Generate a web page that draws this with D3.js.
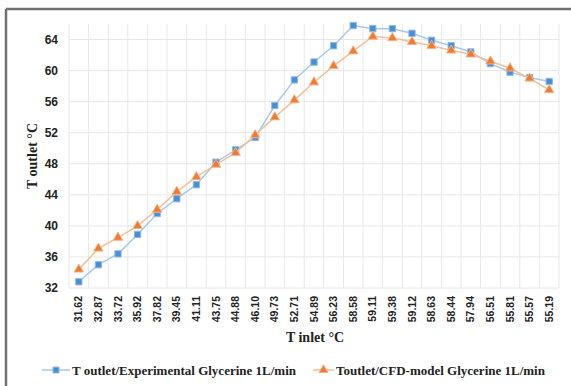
<!DOCTYPE html>
<html>
<head>
<meta charset="utf-8">
<script src="https://cdn.jsdelivr.net/npm/d3@7"></script>
<style>
  body { margin: 0; background: #fff; }
  svg { display: block; font-family: "Liberation Serif", "Times New Roman", serif; font-weight: bold; }
</style>
</head>
<body>
<svg id="chart" width="571" height="386"></svg>
<script>
// inlet temperatures (categories on x)
var tInlet = ['31.62', '32.87', '33.72', '35.92', '37.82', '39.45', '41.11', '43.75', '44.88', '46.10',
  '49.73', '52.71', '54.89', '56.23', '58.58', '59.11', '59.38', '59.12', '58.63', '58.44',
  '57.94', '56.51', '55.81', '55.57', '55.19'];

var experimental = [32.8, 35.0, 36.4, 38.9, 41.6, 43.5, 45.3, 48.2, 49.8, 51.4,
  55.5, 58.8, 61.1, 63.2, 65.8, 65.4, 65.4, 64.8, 63.9, 63.2,
  62.4, 60.9, 59.8, 59.1, 58.6];

var cfdModel = [34.4, 37.1, 38.5, 40.0, 42.1, 44.4, 46.3, 47.9, 49.4, 51.7,
  54.0, 56.2, 58.5, 60.6, 62.5, 64.4, 64.2, 63.7, 63.2, 62.6,
  62.1, 61.2, 60.3, 59.0, 57.5];

var yTicks = [32, 36, 40, 44, 48, 52, 56, 60, 64];

var series = [
  { name: 'T outlet/Experimental Glycerine 1L/min', values: experimental, line: '#a9c9ea', fill: '#4a8ed6', stroke: '#8dbbe8', shape: d3.symbolSquare },
  { name: 'Toutlet/CFD-model Glycerine 1L/min', values: cfdModel, line: '#f5bf98', fill: '#ee7b30', stroke: '#f6b48a', shape: d3.symbolTriangle }
];

var svg = d3.select('#chart');
var plotL = 69, plotR = 559, plotT = 24, plotB = 288;

// outer frame (only top and left edges show in the crop)
svg.append('line').attr('x1', 6).attr('x2', 571).attr('y1', 9).attr('y2', 9)
  .attr('stroke', '#707070').attr('stroke-width', 2.5);
svg.append('line').attr('x1', 6).attr('x2', 6).attr('y1', 9).attr('y2', 386)
  .attr('stroke', '#707070').attr('stroke-width', 2.5);

var x = d3.scaleBand().domain(tInlet).range([plotL, plotR]).padding(0);
var y = d3.scaleLinear().domain([32, 66]).range([plotB, plotT]);

// grid
var grid = svg.append('g').attr('stroke', '#e8e8e8').attr('stroke-width', 1);
grid.selectAll('line.h').data(yTicks).enter().append('line').attr('class', 'h')
  .attr('x1', plotL).attr('x2', plotR)
  .attr('y1', function (d) { return y(d); }).attr('y2', function (d) { return y(d); });
grid.selectAll('line.v').data(tInlet.concat(['end'])).enter().append('line').attr('class', 'v')
  .attr('x1', function (d, i) { return plotL + i * x.bandwidth(); })
  .attr('x2', function (d, i) { return plotL + i * x.bandwidth(); })
  .attr('y1', plotT).attr('y2', plotB);

// y axis labels
var yAxis = d3.axisLeft(y).tickValues(yTicks).tickSize(0).tickPadding(11);
var gy = svg.append('g').attr('transform', 'translate(' + plotL + ',0)').call(yAxis);
gy.select('.domain').remove();
gy.selectAll('text').attr('font-size', 12).attr('font-family', null).attr('fill', '#222');

// x axis labels
var xAxis = d3.axisBottom(x).tickSize(0).tickPadding(0);
var gx = svg.append('g').attr('transform', 'translate(0,' + plotB + ')').call(xAxis);
gx.select('.domain').remove();
gx.selectAll('text')
  .attr('font-size', 10.5).attr('font-family', null).attr('fill', '#222')
  .attr('text-anchor', 'end')
  .attr('transform', 'rotate(-90)')
  .attr('x', -8).attr('y', 0).attr('dy', '0.35em');

// axis titles
svg.append('text').attr('x', 315).attr('y', 342).attr('text-anchor', 'middle')
  .attr('font-size', 14).attr('fill', '#222').text('T inlet °C');
svg.append('text').attr('transform', 'translate(37,156) rotate(-90)').attr('text-anchor', 'middle')
  .attr('font-size', 14).attr('fill', '#222').text('T outlet °C');

// lines and markers
var line = d3.line()
  .x(function (d, i) { return x(tInlet[i]) + x.bandwidth() / 2; })
  .y(function (d) { return y(d); });

series.forEach(function (s) {
  svg.append('path').datum(s.values).attr('d', line)
    .attr('fill', 'none').attr('stroke', s.line).attr('stroke-width', 1.5);
  svg.append('g').selectAll('path').data(s.values).enter().append('path')
    .attr('d', d3.symbol().type(s.shape).size(s.shape === d3.symbolSquare ? 40 : 38))
    .attr('transform', function (d, i) {
      return 'translate(' + (x(tInlet[i]) + x.bandwidth() / 2) + ',' + y(d) + ')';
    })
    .attr('fill', s.fill).attr('stroke', s.stroke).attr('stroke-width', 1);
});

// legend
var legendX = [42, 313];
series.forEach(function (s, i) {
  var g = svg.append('g').attr('transform', 'translate(' + legendX[i] + ',370)');
  g.append('line').attr('x1', 0).attr('x2', i === 0 ? 28 : 21).attr('stroke', s.line).attr('stroke-width', 1.5);
  g.append('path').attr('d', d3.symbol().type(s.shape).size(36))
    .attr('transform', 'translate(' + (i === 0 ? 14 : 10.5) + ',0)')
    .attr('fill', s.fill).attr('stroke', s.stroke);
  g.append('text').attr('x', i === 0 ? 30 : 23).attr('dy', '0.35em')
    .attr('font-size', 13).attr('fill', '#222').text(s.name);
});
</script>
</body>
</html>
